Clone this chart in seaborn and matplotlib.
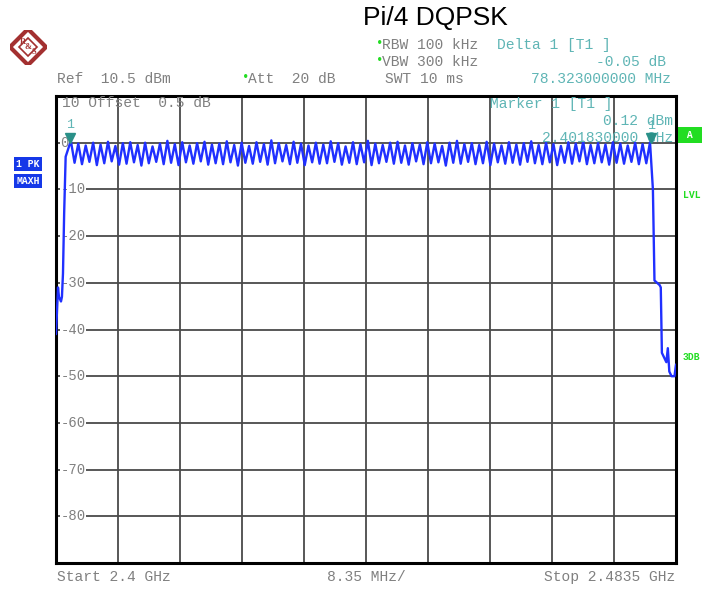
"""Spectrum analyzer screenshot: Pi/4 DQPSK hopping band (max hold)."""

import matplotlib

matplotlib.use("Agg")
import matplotlib.pyplot as plt
import pandas as pd
import seaborn as sns

# band edges / grid
START_GHZ = 2.4
STOP_GHZ = 2.4835
REF_TOP = 10
REF_BOTTOM = -90
Y_LABELS = [0, -10, -20, -30, -40, -50, -60, -70, -80]

# rising edge before first channel
LEFT_FREQ = [2.4000, 2.40013, 2.40027, 2.4004, 2.40067, 2.4008, 2.40094, 2.4011, 2.4013]
LEFT_LEVEL = [-41, -36, -31, -33, -34, -33, -28, -15, -3]

# 79 hopping channels, 2402..2480 MHz: peak on channel, trough in between
CHANNEL_MHZ = list(range(2402, 2481))
PEAKS = [
    0.4, -0.2, -0.6, 0.0, -0.4, 0.2, -0.7, -0.1, 0.1, -0.5,
    0.0, -0.8, -0.2, 0.4, -0.3, 0.1, -0.6, -0.1, 0.2, -0.4,
    -0.2, 0.3, -0.5, 0.0, -0.7, 0.1, -0.3, 0.5, -0.1, -0.5,
    0.2, -0.2, -0.6, 0.0, -0.4, 0.3, -0.1, -0.8, 0.1, -0.3,
    0.4, -0.2, -0.5, 0.0, 0.2, -0.6, -0.1, -0.4, 0.1, -0.2,
    -0.7, 0.0, 0.4, -0.3, -0.1, -0.5, 0.2, -0.2, -0.6, 0.1,
    -0.4, -0.1, 0.3, -0.5, 0.0, -0.3, -0.7, 0.1, -0.2, 0.2,
    -0.5, -0.1, -0.4, 0.1, -0.2, -0.6, 0.0, -0.3, 0.1,
]
TROUGHS = [
    -4.3, -4.6, -4.1, -4.8, -4.4, -4.0, -4.7, -4.5, -4.2, -4.9,
    -4.4, -4.1, -4.6, -4.3, -4.8, -4.2, -4.5, -4.0, -4.7, -4.4,
    -4.6, -4.2, -4.9, -4.3, -4.5, -4.1, -4.7, -4.4, -4.0, -4.6,
    -4.3, -4.8, -4.2, -4.5, -4.4, -4.1, -4.7, -4.3, -4.6, -4.2,
    -4.8, -4.4, -4.1, -4.5, -4.3, -4.7, -4.0, -4.6, -4.4, -4.2,
    -4.9, -4.3, -4.5, -4.1, -4.6, -4.4, -4.8, -4.2, -4.5, -4.3,
    -4.7, -4.1, -4.4, -4.6, -4.2, -4.8, -4.3, -4.5, -4.0, -4.6,
    -4.4, -4.2, -4.7, -4.3, -4.5, -4.1, -4.6, -4.4,
]

# falling edge after last channel
RIGHT_FREQ = [2.48039, 2.4806, 2.4813, 2.48145, 2.4816, 2.4822, 2.4824, 2.4826,
              2.4829, 2.4833, 2.4835]
RIGHT_LEVEL = [-10, -29.5, -30.5, -31, -45, -47, -44, -49, -50, -50, -47.5]

MARKER_GHZ = 2.40183
MARKER_DBM = 0.12
DELTA_MHZ = 78.323
DELTA_DB = -0.05

W, H = 704, 590
GRAY = "#808080"
TEAL = "#5fb5b5"
GREEN = "#22dd22"
TRACE = "#2030ff"
MONO = "Liberation Mono"


def px(x, y):
    return x / W, 1 - y / H


def ftext(fig, x, y, s, **kw):
    kw.setdefault("family", MONO)
    kw.setdefault("fontsize", 10.5)
    kw.setdefault("color", GRAY)
    kw.setdefault("va", "center")
    fig.text(*px(x, y), s, **kw)


sns.set_style("white")
fig = plt.figure(figsize=(W / 100, H / 100), dpi=100)

# plot area
left, top, right, bottom = 56, 96, 676, 563
ax = fig.add_axes([left / W, 1 - bottom / H, (right - left) / W, (bottom - top) / H])

freqs, levels = list(LEFT_FREQ), list(LEFT_LEVEL)
for i, ch in enumerate(CHANNEL_MHZ):
    freqs.append(ch / 1000)
    levels.append(PEAKS[i])
    if i < len(TROUGHS):
        freqs.append((ch + 0.5) / 1000)
        levels.append(TROUGHS[i])
freqs += RIGHT_FREQ
levels += RIGHT_LEVEL
trace = pd.DataFrame({"freq": freqs, "level": levels})

sns.lineplot(data=trace, x="freq", y="level", ax=ax, color=TRACE, linewidth=1.7,
             estimator=None, sort=False, zorder=3)

ax.set_xlim(START_GHZ, STOP_GHZ)
ax.set_ylim(REF_BOTTOM, REF_TOP)
step = (STOP_GHZ - START_GHZ) / 10
ax.set_xticks([START_GHZ + k * step for k in range(11)])
ax.set_yticks(list(range(REF_BOTTOM, REF_TOP + 1, 10)))
ax.grid(True, color="#4a4a4a", linewidth=1.3)
ax.tick_params(length=0, labelbottom=False, labelleft=False)
ax.set_xlabel("")
ax.set_ylabel("")
for sp in ax.spines.values():
    sp.set_color("black")
    sp.set_linewidth(2.2)

# level labels drawn inside the grid
for v in Y_LABELS:
    s = "0" if v == 0 else str(v)
    ax.text(0.007, v, s, transform=ax.get_yaxis_transform(), family=MONO,
            fontsize=10, color=GRAY, va="center", ha="left", zorder=2,
            bbox=dict(facecolor="white", edgecolor="none", pad=0.5))
ax.text(0.01, 8.5, "10 Offset  0.5 dB", transform=ax.get_yaxis_transform(),
        family=MONO, fontsize=10.5, color=GRAY, va="center", ha="left")

# markers
delta_ghz = MARKER_GHZ + DELTA_MHZ / 1000
for fx, lvl in [(MARKER_GHZ, MARKER_DBM), (delta_ghz, MARKER_DBM + DELTA_DB)]:
    ax.plot([fx], [lvl + 0.9], marker="v", markersize=7, color="#2a9088",
            linestyle="none", zorder=5)
    ax.text(fx, lvl + 3.6, "1", family=MONO, fontsize=9.5, color=TEAL,
            ha="center", va="center", zorder=5)

ax.text(0.7, 8.3, "Marker 1 [T1 ]", transform=ax.get_yaxis_transform(),
        family=MONO, fontsize=10.5, color=TEAL, va="center", ha="left")
ax.text(0.995, 4.7, f"{MARKER_DBM:.2f} dBm", transform=ax.get_yaxis_transform(),
        family=MONO, fontsize=10.5, color=TEAL, va="center", ha="right")
ax.text(0.995, 1.1, f"{MARKER_GHZ:.9f} GHz", transform=ax.get_yaxis_transform(),
        family=MONO, fontsize=10.5, color=TEAL, va="center", ha="right", zorder=4)

# header
fig.text(*px(435, 18), "Pi/4 DQPSK", family="Liberation Sans", fontsize=19,
         ha="center", va="center", color="black")
ftext(fig, 376, 44, "\u2022", color=GREEN, fontsize=9)
ftext(fig, 382, 45, "RBW 100 kHz")
ftext(fig, 376, 61, "\u2022", color=GREEN, fontsize=9)
ftext(fig, 382, 62, "VBW 300 kHz")
ftext(fig, 385, 79, "SWT 10 ms")
ftext(fig, 57, 79, "Ref  10.5 dBm")
ftext(fig, 242, 78, "\u2022", color=GREEN, fontsize=9)
ftext(fig, 248, 79, "Att  20 dB")
ftext(fig, 497, 45, "Delta 1 [T1 ]", color=TEAL)
ftext(fig, 666, 62, f"{DELTA_DB:.2f} dB", color=TEAL, ha="right")
ftext(fig, 671, 79, f"{DELTA_MHZ:.9f} MHz", color=TEAL, ha="right")

# footer
ftext(fig, 57, 577, f"Start {START_GHZ} GHz")
ftext(fig, 366, 577, f"{step * 1000:.2f} MHz/", ha="center")
ftext(fig, 675, 577, f"Stop {STOP_GHZ} GHz", ha="right")

# side badges
box = dict(boxstyle="square,pad=0.25", facecolor="#1538e8", edgecolor="none")
ftext(fig, 28, 164, "1 PK", color="white", fontsize=7, ha="center",
      weight="bold", bbox=box)
ftext(fig, 28, 181, "MAXH", color="white", fontsize=7, ha="center",
      weight="bold", bbox=box)
ftext(fig, 690, 135, " A ", color="white", fontsize=7, ha="center", weight="bold",
      bbox=dict(boxstyle="square,pad=0.3", facecolor=GREEN, edgecolor="none"))
ftext(fig, 692, 195, "LVL", color=GREEN, fontsize=7, ha="center", weight="bold")
ftext(fig, 691, 357, "3DB", color=GREEN, fontsize=7, ha="center", weight="bold")

# R&S logo
logo = fig.add_axes([10 / W, 1 - 64 / H, 36 / W, 34 / H])
logo.set_xlim(-1, 1)
logo.set_ylim(-1, 1)
logo.axis("off")
logo.plot([0], [0], marker="D", markersize=18, markerfacecolor="white",
          markeredgecolor="#a33030", markeredgewidth=3)
logo.plot([0], [0], marker="D", markersize=9, markerfacecolor="none",
          markeredgecolor="#a33030", markeredgewidth=1.2)
for (lx, ly, ch) in [(-0.3, 0.3, "R"), (0, 0, "&"), (0.3, -0.3, "S")]:
    logo.text(lx, ly, ch, color="#a33030", fontsize=6, ha="center", va="center",
              family="Liberation Serif", weight="bold")

fig.savefig("out.png", dpi=100)
